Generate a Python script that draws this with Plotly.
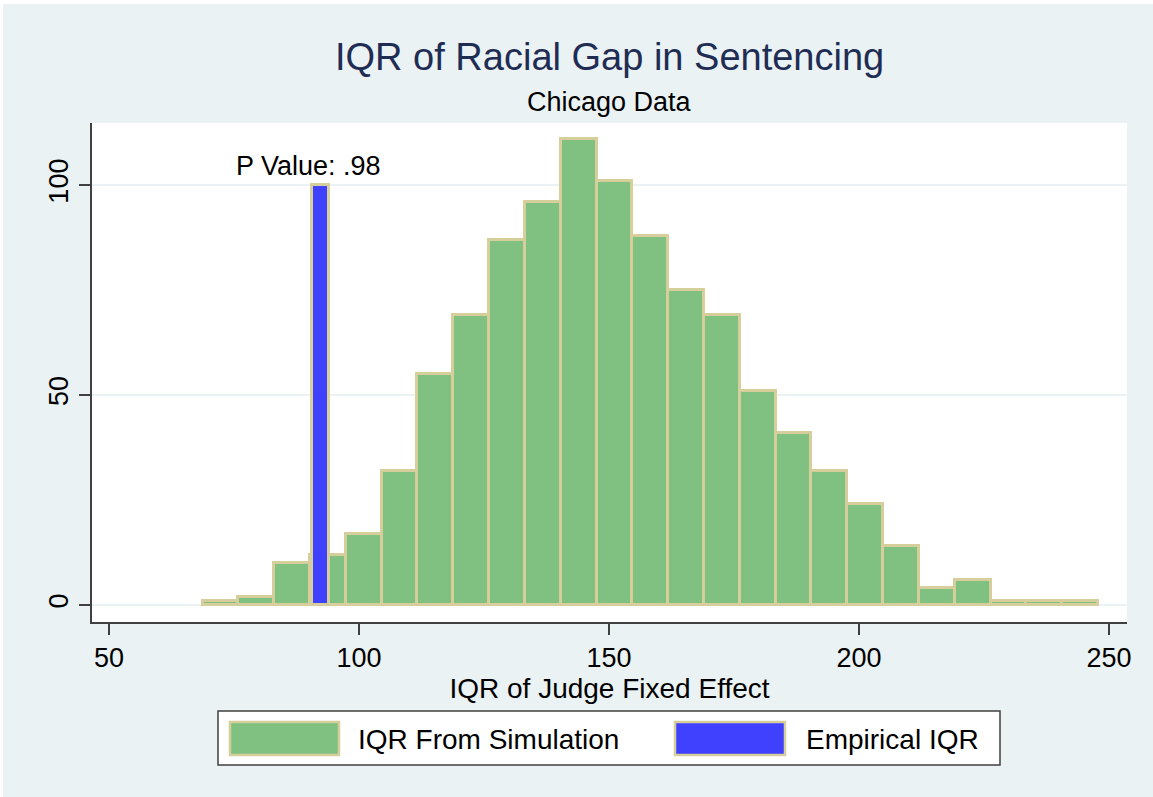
import numpy as np
import plotly.graph_objects as go

# ---- data ----
sim_counts = [1, 2, 10, 12, 17, 32, 55, 69, 87, 96, 111, 101, 88, 75, 69,
              51, 41, 32, 24, 14, 4, 6, 1, 1, 1]
hist_min = 68.7
hist_max = 247.8
empirical_iqr = [92.2]
empirical_height = [100]
x_ticks = [50, 100, 150, 200, 250]
y_ticks = [0, 50, 100]
p_value_text = "P Value: .98"

title_text = "IQR of Racial Gap in Sentencing"
subtitle_text = "Chicago Data"
x_title = "IQR of Judge Fixed Effect"
legend_labels = ["IQR From Simulation", "Empirical IQR"]

# ---- derived bins ----
n_bins = len(sim_counts)
edges = np.linspace(hist_min, hist_max, n_bins + 1)
centers = (edges[:-1] + edges[1:]) / 2
bin_w = edges[1] - edges[0]

GREEN = "#80C080"
BLUE = "#4040FF"
OUTLINE = "#D7CF9B"
BG = "#EAF2F3"
FONT = "Liberation Sans, Arial, sans-serif"

fig = go.Figure()
fig.add_trace(go.Bar(
    x=centers, y=sim_counts, width=bin_w,
    marker=dict(color=GREEN, line=dict(color=OUTLINE, width=3)),
    name=legend_labels[0], hoverinfo="skip"))
fig.add_trace(go.Bar(
    x=empirical_iqr, y=empirical_height, width=3.4,
    marker=dict(color=BLUE, line=dict(color=OUTLINE, width=3)),
    name=legend_labels[1], hoverinfo="skip"))

W, H = 1153, 797
L, R, T, B = 92, 26, 123, 175
pw, ph = W - L - R, H - T - B

def px(xp):
    return (xp - L) / pw

def py(yp):
    return (H - B - yp) / ph

shapes = []
annotations = []

# title / subtitle
annotations.append(dict(text=title_text, xref="paper", yref="paper",
                        x=0.5, y=py(57), xanchor="center", yanchor="middle",
                        showarrow=False, font=dict(size=38, color="#1F2D55", family=FONT)))
annotations.append(dict(text=subtitle_text, xref="paper", yref="paper",
                        x=0.5, y=py(102), xanchor="center", yanchor="middle",
                        showarrow=False, font=dict(size=27, color="black", family=FONT)))

# p value label
annotations.append(dict(text=p_value_text, xref="x", yref="y",
                        x=89.8, y=104.6, xanchor="center", yanchor="middle",
                        showarrow=False, font=dict(size=27, color="black", family=FONT)))

# legend box
shapes.append(dict(type="rect", xref="paper", yref="paper",
                   x0=px(218), x1=px(1000), y0=py(765), y1=py(711),
                   fillcolor="white", line=dict(color="#404040", width=1.5)))
sw = [(230, 339, GREEN), (675, 785, BLUE)]
tx = [356, 804]
for (a, b, c), t, lab in zip(sw, tx, legend_labels):
    shapes.append(dict(type="rect", xref="paper", yref="paper",
                       x0=px(a), x1=px(b), y0=py(755), y1=py(722),
                       fillcolor=c, line=dict(color=OUTLINE, width=2.5)))
    annotations.append(dict(text=lab, xref="paper", yref="paper",
                            x=px(t), y=py(739), xanchor="left", yanchor="middle",
                            showarrow=False, font=dict(size=28, color="black", family=FONT)))

# thin white border at top/left of image
shapes.append(dict(type="rect", xref="paper", yref="paper",
                   x0=px(0), x1=px(W), y0=py(0), y1=py(4),
                   fillcolor="white", line=dict(width=0)))
shapes.append(dict(type="rect", xref="paper", yref="paper",
                   x0=px(0), x1=px(3), y0=py(0), y1=py(H),
                   fillcolor="white", line=dict(width=0)))

fig.update_layout(
    width=W, height=H,
    margin=dict(l=L, r=R, t=T, b=B, autoexpand=False),
    paper_bgcolor=BG, plot_bgcolor="white",
    barmode="overlay", bargap=0, showlegend=False,
    font=dict(family=FONT, color="black"),
    shapes=shapes, annotations=annotations,
    xaxis=dict(range=[46.6, 253.6], tickvals=x_ticks, showgrid=False,
               zeroline=False, showline=True, linecolor="#404040", linewidth=1.5,
               ticks="outside", ticklen=11, tickwidth=1.5, tickcolor="#404040",
               tickfont=dict(size=27, family=FONT, color="black"),
               title=dict(text=x_title, font=dict(size=28, family=FONT, color="black"),
                          standoff=2)),
    yaxis=dict(range=[-4.05, 114.8], tickvals=y_ticks, showgrid=True,
               gridcolor=BG, gridwidth=2, zeroline=False,
               showline=True, linecolor="#404040", linewidth=1.5,
               ticks="outside", ticklen=11, tickwidth=1.5, tickcolor="#404040",
               tickangle=-90,
               tickfont=dict(size=27, family=FONT, color="black")),
)

fig.write_html("out.html", config={"displayModeBar": False},
               post_script="document.body.style.margin='0';document.body.style.padding='0';")
